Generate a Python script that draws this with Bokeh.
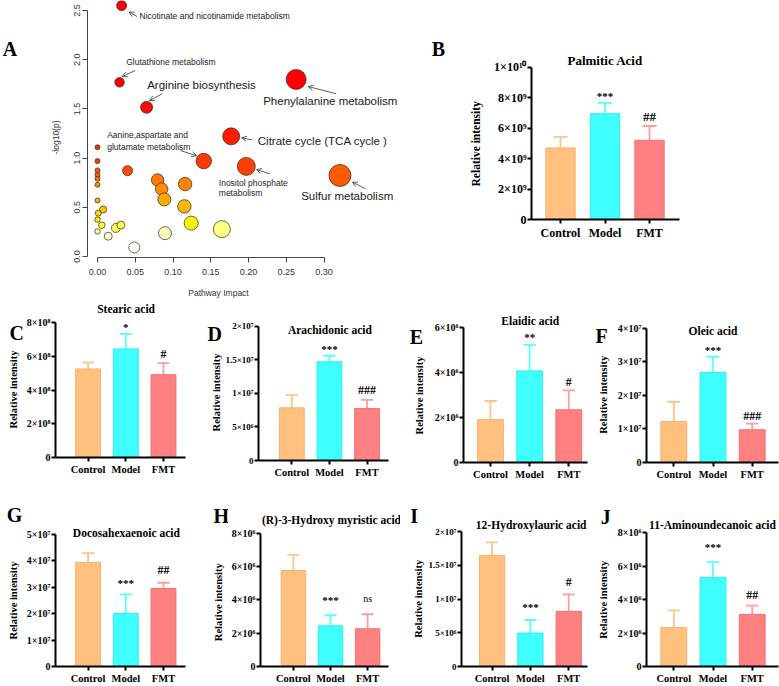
import math

from bokeh.core.properties import value
from bokeh.embed import file_html
from bokeh.layouts import column, row
from bokeh.models import (Arrow, ColumnDataSource, FixedTicker, Label, LabelSet, LinearAxis,
                          NumeralTickFormatter, OpenHead, Range1d)
from bokeh.plotting import figure
from bokeh.resources import INLINE

SERIF = "Liberation Serif"
SANS = "Liberation Sans"

# ---------------------------------------------------------------------------
# Panel A: metabolic pathway analysis (impact vs -log10 p)
# ---------------------------------------------------------------------------
pathway_impact = [0.0319, 0.0292, 0.065, 0.263, 0.177, 0.1407, 0.197, 0.321,
                  0.0398, 0.0796, 0.085, 0.0885, 0.116, 0.115, 0.124, 0.1646,
                  0.0894, 0.0487, 0.0142, 0.0243, 0.031, 0.0074, 0.0057, 0.001,
                  0.0, 0.0, 0.0, 0.0, 0.0, 0.0, 0.0, 0.0, 0.0]
pathway_logp = [2.55, 1.77, 1.516, 1.80, 1.221, 0.970, 0.916, 0.824,
                0.872, 0.777, 0.685, 0.58, 0.736, 0.509, 0.339, 0.278,
                0.237, 0.092, 0.206, 0.29, 0.319, 0.478, 0.318, 0.44,
                1.11, 0.97, 0.875, 0.83, 0.79, 0.73, 0.57, 0.375, 0.255]
pathway_node = [10, 9.5, 12, 20, 17, 15.5, 18, 22,
                10, 12.5, 12.5, 13, 13.5, 13.5, 14, 17,
                13, 11, 8, 9, 8, 7, 6.5, 6,
                5, 5, 5, 5, 5, 5, 5, 5.5, 5.5]
pathway_color = ["#FF0000", "#FF0000", "#FF0800", "#FF0000", "#FF1C00", "#FF3A00", "#FF3F00", "#FF5A00",
                 "#FF4A00", "#FF7A00", "#FF8C00", "#FFA800", "#FF8400", "#FFB400", "#FFF200", "#FFFF80",
                 "#FFFFB8", "#FFFFEE", "#FFFFC8", "#FFFF60", "#FFFF40", "#FFC400", "#FFFF30", "#FFD800",
                 "#FF2C00", "#FF3C00", "#FF5200", "#FF6000", "#FF6C00", "#FF8A00", "#FFAA00", "#FFEE00", "#FFFF90"]

# pathway names: text, anchor on the page (px), font size
pathway_labels = [
    ("Nicotinate and nicotinamide metabolism", 139, 15, 8.5),
    ("Glutathione metabolism", 125.7, 61, 8.5),
    ("Arginine biosynthesis", 146.7, 84.3, 11.5),
    ("Phenylalanine metabolism", 262.7, 100.5, 11.5),
    ("Citrate cycle (TCA cycle )", 257.3, 140, 11.5),
    ("Aanine,aspartate and", 106.7, 134.3, 8.5),
    ("glutamate metabolism", 106.7, 146, 8.5),
    ("Inositol phosphate", 218.3, 182.3, 8.5),
    ("metabolism", 218.3, 192.7, 8.5),
    ("Sulfur metabolism", 300.7, 195.7, 11.5),
]
# leader arrows: tail -> head (px)
pathway_arrows = [
    (136.5, 16, 128.5, 11.5),
    (134.7, 70, 121.7, 76),
    (161.7, 93.3, 149, 100),
    (335.7, 93.3, 307.7, 86),
    (251.7, 139.3, 241, 137.3),
    (180, 150, 196, 155.3),
    (269.3, 173.3, 256, 169),
    (365, 188.3, 352, 181.7),
]

# ---------------------------------------------------------------------------
# Panels B-J: relative intensity of fatty acids (mean, SD, significance)
# ---------------------------------------------------------------------------
groups = ["Control", "Model", "FMT"]

palmitic_mean = [4.70e9, 6.95e9, 5.20e9]
palmitic_sd = [0.72e9, 0.71e9, 0.94e9]
palmitic_sig = ["", "***", "##"]
palmitic_ticks = [0, 2e9, 4e9, 6e9, 8e9, 1e10]

stearic_mean = [5.26e8, 6.45e8, 4.92e8]
stearic_sd = [0.39e8, 0.89e8, 0.68e8]
stearic_sig = ["", "*", "#"]
stearic_ticks = [0, 2e8, 4e8, 6e8, 8e8]

arachidonic_mean = [7.85e6, 1.47e7, 7.74e6]
arachidonic_sd = [1.88e6, 0.90e6, 1.30e6]
arachidonic_sig = ["", "***", "###"]
arachidonic_ticks = [0, 5e6, 1e7, 1.5e7, 2e7]

elaidic_mean = [1.91e6, 4.08e6, 2.35e6]
elaidic_sd = [0.83e6, 1.16e6, 0.86e6]
elaidic_sig = ["", "**", "#"]
elaidic_ticks = [0, 2e6, 4e6, 6e6]

oleic_mean = [1.22e7, 2.68e7, 9.76e6]
oleic_sd = [5.9e6, 4.7e6, 1.84e6]
oleic_sig = ["", "***", "###"]
oleic_ticks = [0, 1e7, 2e7, 3e7, 4e7]

dha_mean = [3.94e7, 2.01e7, 2.95e7]
dha_sd = [3.5e6, 7.2e6, 2.2e6]
dha_sig = ["", "***", "##"]
dha_ticks = [0, 1e7, 2e7, 3e7, 4e7, 5e7]

hydroxymyristic_mean = [5.77e6, 2.45e6, 2.27e6]
hydroxymyristic_sd = [0.94e6, 0.63e6, 0.87e6]
hydroxymyristic_sig = ["", "***", "ns"]
hydroxymyristic_ticks = [0, 2e6, 4e6, 6e6, 8e6]

hydroxylauric_mean = [1.644e7, 4.95e6, 8.17e6]
hydroxylauric_sd = [1.96e6, 1.94e6, 2.53e6]
hydroxylauric_sig = ["", "***", "#"]
hydroxylauric_ticks = [0, 5e6, 1e7, 1.5e7, 2e7]

aminoundecanoic_mean = [2.33e6, 5.33e6, 3.12e6]
aminoundecanoic_sd = [1.03e6, 0.91e6, 0.52e6]
aminoundecanoic_sig = ["", "***", "##"]
aminoundecanoic_ticks = [0, 2e6, 4e6, 6e6, 8e6]

bar_fill = ["#FFC080", "#40FFFF", "#FF8080"]
bar_edge = ["#F8B070", "#2EEDED", "#F47272"]
err_color = ["#FFC48C", "#55FFFF", "#FF9C9C"]

SUP = str.maketrans("0123456789", "⁰¹²³⁴⁵⁶⁷⁸⁹")


def sci(v):
    if v == 0:
        return "0"
    e = int(math.floor(math.log10(v) + 1e-9))
    m = v / 10 ** e
    return f"{m:g}×10{str(e).translate(SUP)}"


def base_fig(**kw):
    p = figure(output_backend="svg", toolbar_location=None, frame_align=False, **kw)
    p.outline_line_color = None
    p.grid.visible = False
    p.background_fill_color = "white"
    p.border_fill_color = "white"
    return p


def mapper(L, R, T, B, xr, yr):
    """page pixel -> data coordinates for a frame spanning L..R, T..B"""
    def at(px, py):
        x = xr[0] + (px - L) * (xr[1] - xr[0]) / (R - L)
        y = yr[1] - (py - T) * (yr[1] - yr[0]) / (B - T)
        return x, y
    return at


def put(p, at, px, py, text, size, font=SERIF, style="bold", align="center",
        angle=0.0, color="black"):
    x, y = at(px, py)
    p.add_layout(Label(x=x, y=y, text=text, text_font=font, text_font_size=f"{size}px",
                       text_font_style=style, text_align=align, text_baseline="middle",
                       angle=angle, text_color=color))


def strip(ox, oy, w, h, items):
    """narrow text column holding a panel letter and its y-axis title"""
    p = base_fig(width=w, height=h, x_range=Range1d(0, w), y_range=Range1d(h, 0),
                 x_axis_location=None, y_axis_location=None, min_border=0)
    at = lambda px, py: (px - ox, py - oy)
    for text, px, py, size, angle, font, style in items:
        put(p, at, px, py, text, size, font=font, style=style, angle=angle,
            color="black" if font == SERIF else "#333333")
    return p


# ---------------- panel A ----------------
A_SW, A_W, A_H = 62, 410, 300
A_L, A_R, A_T, A_B = 87, 410, 0, 257
a_xr = (-0.01324, 0.4144)
a_yr = (-0.0102, 2.602)
strip_a = strip(0, 0, A_SW, A_H, [
    ("A", 9.5, 48, 20, 0.0, SERIF, "bold"),
    ("-log10(p)", 55, 137, 8.5, math.pi / 2, SANS, "normal"),
])
pa = base_fig(width=A_W - A_SW, height=A_H, x_range=Range1d(*a_xr), y_range=Range1d(*a_yr),
              min_border_left=A_L - A_SW, min_border_right=0, min_border_top=0,
              min_border_bottom=A_H - A_B)
at_a = mapper(A_L, A_R, A_T, A_B, a_xr, a_yr)
pa.scatter(x=pathway_impact, y=pathway_logp, size=pathway_node, marker="circle",
           fill_color=pathway_color, line_color="#2a2a2a", line_width=0.7)

impact_title_x = at_a(218, 0)[0]
impact_axis = LinearAxis(ticker=FixedTicker(ticks=[impact_title_x]),
                         major_label_overrides={impact_title_x: "Pathway Impact"})
pa.add_layout(impact_axis, "below")
for ax in (pa.xaxis[0], pa.yaxis[0], impact_axis):
    ax.axis_line_color = "#444444"
    ax.axis_line_width = 1
    ax.major_tick_line_color = "#444444"
    ax.major_tick_out = 5
    ax.major_tick_in = 0
    ax.minor_tick_line_color = None
    ax.major_label_text_font = SANS
    ax.major_label_text_font_size = "9px"
    ax.major_label_text_color = "#333333"
impact_axis.axis_line_color = None
impact_axis.major_tick_line_color = None
impact_axis.major_tick_out = 0
impact_axis.major_label_text_font_size = "8.5px"
impact_axis.major_label_standoff = 10
pa.xaxis[0].ticker = FixedTicker(ticks=[0, 0.05, 0.1, 0.15, 0.2, 0.25, 0.3])
pa.xaxis[0].formatter = NumeralTickFormatter(format="0.00")
pa.xaxis[0].bounds = (0, 0.3)
pa.xaxis[0].major_label_standoff = 6
pa.yaxis[0].ticker = FixedTicker(ticks=[0, 0.5, 1, 1.5, 2, 2.5])
pa.yaxis[0].formatter = NumeralTickFormatter(format="0.0")
pa.yaxis[0].bounds = (0, 2.5)
pa.yaxis[0].major_label_orientation = "vertical"
pa.yaxis[0].major_label_standoff = 2

for text, px, py, fs in pathway_labels:
    put(pa, at_a, px, py, text, fs, font=SANS, style="normal", align="left", color="#1a1a1a")
for sx, sy, ex, ey in pathway_arrows:
    x0, y0 = at_a(sx, sy)
    x1, y1 = at_a(ex, ey)
    pa.add_layout(Arrow(x_start=x0, y_start=y0, x_end=x1, y_end=y1,
                        line_color="#333333", line_width=0.8,
                        end=OpenHead(size=5, line_color="#333333", line_width=0.8)))


# ---------------- bar panels ----------------
def bar_panel(geo, mean, sd, sig, yticks, title, letter, letter_xy, title_xy, ylab_xy,
              mark_off, big=False, tick_fs=10):
    ox, oy, w, h, sw, ax_x, ax_end, tick_top, zero_y, c1, c3 = geo
    cx, cw = ox + sw, w - sw
    bl = int(round(ax_x - cx))
    bb = int(round(oy + h - zero_y))
    L, R, T, B = cx + bl, cx + cw, oy, oy + h - bb
    s = (c3 - c1) / 2
    xr = (1 + (L - c1) / s, 1 + (R - c1) / s)
    yr = (0, yticks[-1] * (B - T) / (B - tick_top))

    p = base_fig(width=cw, height=h, x_range=Range1d(*xr), y_range=Range1d(*yr),
                 min_border_left=bl, min_border_right=0, min_border_top=0, min_border_bottom=bb)
    at = mapper(L, R, T, B, xr, yr)

    xs = [1, 2, 3]
    top = [m + e for m, e in zip(mean, sd)]
    src = ColumnDataSource(dict(
        x=xs, mean=mean, top=top,
        cl=[x - 0.16 for x in xs], cr=[x + 0.16 for x in xs],
        fill=bar_fill, edge=bar_edge, err=err_color,
    ))
    p.segment(x0="x", y0="mean", x1="x", y1="top", line_color="err", line_width=1.8, source=src)
    p.segment(x0="cl", y0="top", x1="cr", y1="top", line_color="err", line_width=1.8, source=src)
    p.vbar(x="x", top="mean", width=0.66, fill_color="fill", line_color="edge",
           line_width=1, source=src)

    # significance marks above the error bars
    offs, sizes, styles = [], [], []
    for i, t in enumerate(sig):
        if "*" in t:
            offs.append(mark_off[i] - 2); sizes.append("11px"); styles.append("bold")
        elif t == "ns":
            offs.append(mark_off[i]); sizes.append("10px"); styles.append("normal")
        else:
            offs.append(mark_off[i]); sizes.append("13px" if big else "12px"); styles.append("bold")
    msrc = ColumnDataSource(dict(x=xs, y=top, t=sig, off=offs, fs=sizes, st=styles))
    p.add_layout(LabelSet(x="x", y="y", text="t", source=msrc, y_offset="off",
                          text_align="center", text_baseline="middle",
                          text_font=value(SERIF), text_font_size="fs",
                          text_font_style="st", text_color="black"))

    for ax in (p.xaxis[0], p.yaxis[0]):
        ax.axis_line_width = 2
        ax.axis_line_color = "black"
        ax.major_tick_line_width = 2
        ax.major_tick_line_color = "black"
        ax.major_tick_out = 4
        ax.major_tick_in = 0
        ax.minor_tick_line_color = None
        ax.major_label_text_font = SERIF
        ax.major_label_text_font_style = "bold"
        ax.major_label_text_color = "black"
    p.xaxis.ticker = FixedTicker(ticks=xs)
    p.xaxis.major_label_overrides = dict(zip(xs, groups))
    p.xaxis.major_label_text_font_size = "12px" if big else "10.5px"
    p.xaxis.major_label_standoff = 2
    p.xaxis.bounds = (xr[0], 1 + (ax_end - c1) / s)
    p.yaxis.ticker = FixedTicker(ticks=yticks)
    p.yaxis.major_label_overrides = {float(t): sci(t) for t in yticks}
    p.yaxis.major_label_text_font_size = f"{tick_fs}px"
    p.yaxis.major_label_standoff = 1
    p.yaxis.bounds = (0, yticks[-1])

    put(p, at, *title_xy, title, 13 if big else 11.5)

    st = strip(ox, oy, sw, h, [
        (letter, letter_xy[0], letter_xy[1], 20, 0.0, SERIF, "bold"),
        ("Relative intensity", ylab_xy[0], ylab_xy[1], 11.5 if big else 10.5, math.pi / 2, SERIF, "bold"),
    ])
    return st, p


# geometry: origin x, origin y, width, height, strip width, y-axis x, x-axis end,
#           top tick y, zero y, first and last category centre
sb, pb = bar_panel((410, 0, 369, 300, 78, 531, 679, 66.7, 218.7, 560, 649),
                   palmitic_mean, palmitic_sd, palmitic_sig, palmitic_ticks,
                   "Palmitic Acid", "B", (437.8, 48.8), (604.7, 60), (475, 143.3), [0, 9, 9],
                   big=True, tick_fs=12)
sc, pc = bar_panel((0, 300, 200, 200, 23, 50, 184.3, 322.3, 456.7, 83.7, 161.7),
                   stearic_mean, stearic_sd, stearic_sig, stearic_ticks,
                   "Stearic acid", "C", (16.3, 332.5), (123, 308.3), (13, 389), [0, 9, 9.5])
sd_, pd_ = bar_panel((200, 300, 195, 200, 22, 254, 388, 325.7, 460, 288.3, 365.7),
                     arachidonic_mean, arachidonic_sd, arachidonic_sig, arachidonic_ticks,
                     "Arachidonic acid", "D", (214.2, 333.3), (327.5, 329), (216, 392), [0, 8.5, 10],
                     tick_fs=9)
se, pe = bar_panel((395, 300, 195, 200, 33, 463.3, 586.7, 327.3, 461.7, 490, 568.3),
                   elaidic_mean, elaidic_sd, elaidic_sig, elaidic_ticks,
                   "Elaidic acid", "E", (415.8, 336), (529.7, 320.7), (419.3, 395), [0, 10, 8.7])
sf, pf = bar_panel((590, 300, 189, 200, 21, 645.7, 778, 327.7, 461.7, 673.3, 751.7),
                   oleic_mean, oleic_sd, oleic_sig, oleic_ticks,
                   "Oleic acid", "F", (601.2, 335), (712.5, 330), (603, 394.3), [0, 9, 7.7])
sg, pg = bar_panel((0, 500, 200, 186, 23, 50, 184.3, 534.3, 668.3, 83.7, 161.7),
                   dha_mean, dha_sd, dha_sig, dha_ticks,
                   "Docosahexaenoic acid", "G", (14, 514), (123.3, 532.7), (13.3, 600), [0, 13, 12.6])
sh, ph = bar_panel((200, 500, 200, 186, 28, 254, 388, 533.3, 668.3, 288.3, 365.7),
                   hydroxymyristic_mean, hydroxymyristic_sd, hydroxymyristic_sig, hydroxymyristic_ticks,
                   "(R)-3-Hydroxy myristic acid", "H", (220.8, 515), (328, 519.3), (218.3, 601.7), [0, 17, 16])
si, pi_ = bar_panel((400, 500, 190, 186, 25, 457.7, 586.7, 531, 665.7, 489.3, 567.7),
                    hydroxylauric_mean, hydroxylauric_sd, hydroxylauric_sig, hydroxylauric_ticks,
                    "12-Hydroxylauric acid", "I", (413.7, 515.5), (529.3, 524.3), (418.3, 598.3), [0, 15, 12],
                    tick_fs=9)
sj, pj = bar_panel((590, 500, 189, 186, 22, 645.7, 778, 532.3, 666.3, 673.3, 751.7),
                   aminoundecanoic_mean, aminoundecanoic_sd, aminoundecanoic_sig, aminoundecanoic_ticks,
                   "11-Aminoundecanoic acid", "J", (605.3, 516.3), (712, 524.3), (603.3, 599.2), [0, 17.5, 10.3])

layout = column(
    row(strip_a, pa, sb, pb),
    row(sc, pc, sd_, pd_, se, pe, sf, pf),
    row(sg, pg, sh, ph, si, pi_, sj, pj),
)

open("out.html", "w").write(file_html(layout, INLINE))
